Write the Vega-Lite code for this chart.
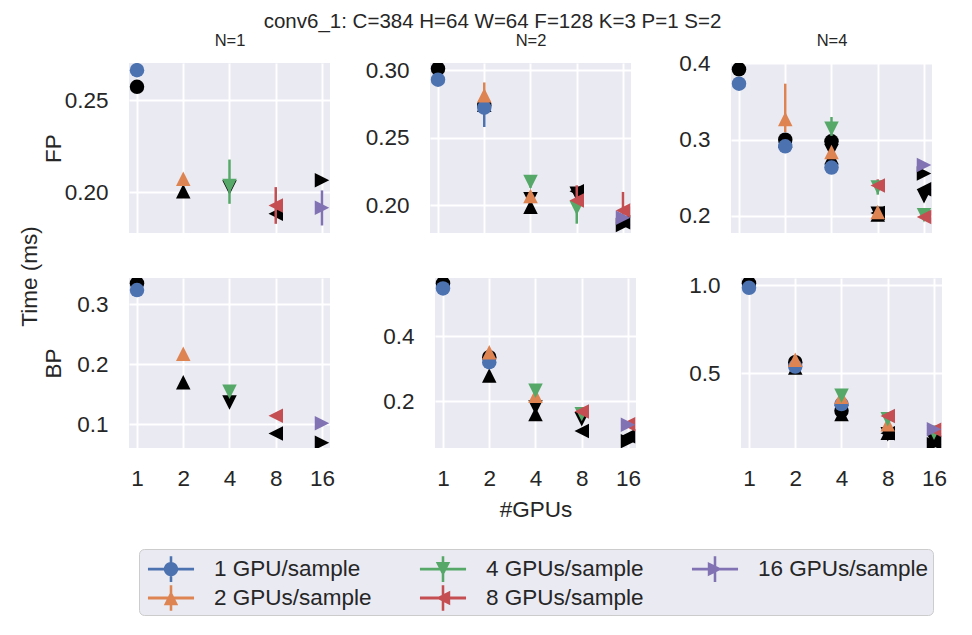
{
  "$schema": "https://vega.github.io/schema/vega-lite/v6.json",
  "background": "white",
  "padding": {"left": 18, "top": 11, "right": 5, "bottom": 5},
  "title": {"text": "conv6_1: C=384 H=64 W=64 F=128 K=3 P=1 S=2", "fontSize": 20.5, "anchor": "middle", "offset": 0, "dx": 10},
  "data": {"values": [
    {"N":1,"phase":"FP","gpus":1,"series":"1 GPU/sample","src":"measured","time":0.2664},
    {"N":1,"phase":"FP","gpus":2,"series":"2 GPUs/sample","src":"measured","time":0.2073},
    {"N":1,"phase":"FP","gpus":4,"series":"4 GPUs/sample","src":"measured","time":0.2033,"lo":0.1936,"hi":0.2177},
    {"N":1,"phase":"FP","gpus":8,"series":"8 GPUs/sample","src":"measured","time":0.1927,"lo":0.1827,"hi":0.2027},
    {"N":1,"phase":"FP","gpus":16,"series":"16 GPUs/sample","src":"measured","time":0.1915,"lo":0.1818,"hi":0.2009},
    {"N":1,"phase":"FP","gpus":1,"series":"1 GPU/sample","src":"model","time":0.2573},
    {"N":1,"phase":"FP","gpus":2,"series":"2 GPUs/sample","src":"model","time":0.2004},
    {"N":1,"phase":"FP","gpus":4,"series":"4 GPUs/sample","src":"model","time":0.2025},
    {"N":1,"phase":"FP","gpus":8,"series":"8 GPUs/sample","src":"model","time":0.1882},
    {"N":1,"phase":"FP","gpus":16,"series":"16 GPUs/sample","src":"model","time":0.2064},

    {"N":2,"phase":"FP","gpus":1,"series":"1 GPU/sample","src":"measured","time":0.2930},
    {"N":2,"phase":"FP","gpus":2,"series":"1 GPU/sample","src":"measured","time":0.2723,"lo":0.2580,"hi":0.2760},
    {"N":2,"phase":"FP","gpus":2,"series":"2 GPUs/sample","src":"measured","time":0.2815,"lo":0.2780,"hi":0.2910},
    {"N":2,"phase":"FP","gpus":4,"series":"2 GPUs/sample","src":"measured","time":0.2069},
    {"N":2,"phase":"FP","gpus":4,"series":"4 GPUs/sample","src":"measured","time":0.2173,"lo":0.2130,"hi":0.2217},
    {"N":2,"phase":"FP","gpus":8,"series":"4 GPUs/sample","src":"measured","time":0.1980,"lo":0.1864,"hi":0.2020},
    {"N":2,"phase":"FP","gpus":8,"series":"8 GPUs/sample","src":"measured","time":0.2035,"lo":0.2000,"hi":0.2148},
    {"N":2,"phase":"FP","gpus":16,"series":"8 GPUs/sample","src":"measured","time":0.1962,"lo":0.1930,"hi":0.2099},
    {"N":2,"phase":"FP","gpus":16,"series":"16 GPUs/sample","src":"measured","time":0.1908},
    {"N":2,"phase":"FP","gpus":1,"series":"1 GPU/sample","src":"model","time":0.3012},
    {"N":2,"phase":"FP","gpus":2,"series":"1 GPU/sample","src":"model","time":0.2741},
    {"N":2,"phase":"FP","gpus":2,"series":"2 GPUs/sample","src":"model","time":0.2745},
    {"N":2,"phase":"FP","gpus":4,"series":"2 GPUs/sample","src":"model","time":0.1990},
    {"N":2,"phase":"FP","gpus":4,"series":"4 GPUs/sample","src":"model","time":0.2045},
    {"N":2,"phase":"FP","gpus":8,"series":"4 GPUs/sample","src":"model","time":0.2085},
    {"N":2,"phase":"FP","gpus":8,"series":"8 GPUs/sample","src":"model","time":0.2105},
    {"N":2,"phase":"FP","gpus":16,"series":"8 GPUs/sample","src":"model","time":0.1875},
    {"N":2,"phase":"FP","gpus":16,"series":"16 GPUs/sample","src":"model","time":0.1855},

    {"N":4,"phase":"FP","gpus":1,"series":"1 GPU/sample","src":"measured","time":0.3734},
    {"N":4,"phase":"FP","gpus":2,"series":"1 GPU/sample","src":"measured","time":0.2913},
    {"N":4,"phase":"FP","gpus":4,"series":"1 GPU/sample","src":"measured","time":0.2634},
    {"N":4,"phase":"FP","gpus":2,"series":"2 GPUs/sample","src":"measured","time":0.3271,"lo":0.3100,"hi":0.3734},
    {"N":4,"phase":"FP","gpus":4,"series":"2 GPUs/sample","src":"measured","time":0.2839,"lo":0.2790,"hi":0.2890},
    {"N":4,"phase":"FP","gpus":8,"series":"2 GPUs/sample","src":"measured","time":0.2052},
    {"N":4,"phase":"FP","gpus":4,"series":"4 GPUs/sample","src":"measured","time":0.3144,"lo":0.3050,"hi":0.3297},
    {"N":4,"phase":"FP","gpus":8,"series":"4 GPUs/sample","src":"measured","time":0.2375,"lo":0.2280,"hi":0.2450},
    {"N":4,"phase":"FP","gpus":16,"series":"4 GPUs/sample","src":"measured","time":0.2009},
    {"N":4,"phase":"FP","gpus":8,"series":"8 GPUs/sample","src":"measured","time":0.2400,"lo":0.2330,"hi":0.2480},
    {"N":4,"phase":"FP","gpus":16,"series":"8 GPUs/sample","src":"measured","time":0.1987},
    {"N":4,"phase":"FP","gpus":16,"series":"16 GPUs/sample","src":"measured","time":0.2669},
    {"N":4,"phase":"FP","gpus":1,"series":"1 GPU/sample","src":"model","time":0.3922},
    {"N":4,"phase":"FP","gpus":2,"series":"1 GPU/sample","src":"model","time":0.3000},
    {"N":4,"phase":"FP","gpus":4,"series":"1 GPU/sample","src":"model","time":0.2979},
    {"N":4,"phase":"FP","gpus":2,"series":"2 GPUs/sample","src":"model","time":0.2990},
    {"N":4,"phase":"FP","gpus":4,"series":"2 GPUs/sample","src":"model","time":0.2770},
    {"N":4,"phase":"FP","gpus":8,"series":"2 GPUs/sample","src":"model","time":0.2020},
    {"N":4,"phase":"FP","gpus":4,"series":"4 GPUs/sample","src":"model","time":0.2850},
    {"N":4,"phase":"FP","gpus":8,"series":"4 GPUs/sample","src":"model","time":0.2030},
    {"N":4,"phase":"FP","gpus":16,"series":"4 GPUs/sample","src":"model","time":0.2260},
    {"N":4,"phase":"FP","gpus":8,"series":"8 GPUs/sample","src":"model","time":0.2040},
    {"N":4,"phase":"FP","gpus":16,"series":"8 GPUs/sample","src":"model","time":0.2350},
    {"N":4,"phase":"FP","gpus":16,"series":"16 GPUs/sample","src":"model","time":0.2556},

    {"N":1,"phase":"BP","gpus":1,"series":"1 GPU/sample","src":"measured","time":0.3233},
    {"N":1,"phase":"BP","gpus":2,"series":"2 GPUs/sample","src":"measured","time":0.2173},
    {"N":1,"phase":"BP","gpus":4,"series":"4 GPUs/sample","src":"measured","time":0.1541},
    {"N":1,"phase":"BP","gpus":8,"series":"8 GPUs/sample","src":"measured","time":0.1139},
    {"N":1,"phase":"BP","gpus":16,"series":"16 GPUs/sample","src":"measured","time":0.1017},
    {"N":1,"phase":"BP","gpus":1,"series":"1 GPU/sample","src":"model","time":0.3345},
    {"N":1,"phase":"BP","gpus":2,"series":"2 GPUs/sample","src":"model","time":0.1697},
    {"N":1,"phase":"BP","gpus":4,"series":"4 GPUs/sample","src":"model","time":0.1362},
    {"N":1,"phase":"BP","gpus":8,"series":"8 GPUs/sample","src":"model","time":0.0843},
    {"N":1,"phase":"BP","gpus":16,"series":"16 GPUs/sample","src":"model","time":0.0692},

    {"N":2,"phase":"BP","gpus":1,"series":"1 GPU/sample","src":"measured","time":0.5474},
    {"N":2,"phase":"BP","gpus":2,"series":"1 GPU/sample","src":"measured","time":0.3206},
    {"N":2,"phase":"BP","gpus":2,"series":"2 GPUs/sample","src":"measured","time":0.3515},
    {"N":2,"phase":"BP","gpus":4,"series":"2 GPUs/sample","src":"measured","time":0.2176},
    {"N":2,"phase":"BP","gpus":4,"series":"4 GPUs/sample","src":"measured","time":0.2331},
    {"N":2,"phase":"BP","gpus":8,"series":"4 GPUs/sample","src":"measured","time":0.1610},
    {"N":2,"phase":"BP","gpus":8,"series":"8 GPUs/sample","src":"measured","time":0.1690},
    {"N":2,"phase":"BP","gpus":16,"series":"8 GPUs/sample","src":"measured","time":0.1300},
    {"N":2,"phase":"BP","gpus":16,"series":"16 GPUs/sample","src":"measured","time":0.1280},
    {"N":2,"phase":"BP","gpus":1,"series":"1 GPU/sample","src":"model","time":0.5630},
    {"N":2,"phase":"BP","gpus":2,"series":"1 GPU/sample","src":"model","time":0.3360},
    {"N":2,"phase":"BP","gpus":2,"series":"2 GPUs/sample","src":"model","time":0.2794},
    {"N":2,"phase":"BP","gpus":4,"series":"2 GPUs/sample","src":"model","time":0.1610},
    {"N":2,"phase":"BP","gpus":4,"series":"4 GPUs/sample","src":"model","time":0.1815},
    {"N":2,"phase":"BP","gpus":8,"series":"4 GPUs/sample","src":"model","time":0.1456},
    {"N":2,"phase":"BP","gpus":8,"series":"8 GPUs/sample","src":"model","time":0.1094},
    {"N":2,"phase":"BP","gpus":16,"series":"8 GPUs/sample","src":"model","time":0.0930},
    {"N":2,"phase":"BP","gpus":16,"series":"16 GPUs/sample","src":"model","time":0.0780},

    {"N":4,"phase":"BP","gpus":1,"series":"1 GPU/sample","src":"measured","time":0.9846},
    {"N":4,"phase":"BP","gpus":2,"series":"1 GPU/sample","src":"measured","time":0.5380},
    {"N":4,"phase":"BP","gpus":4,"series":"1 GPU/sample","src":"measured","time":0.3250},
    {"N":4,"phase":"BP","gpus":2,"series":"2 GPUs/sample","src":"measured","time":0.5760},
    {"N":4,"phase":"BP","gpus":4,"series":"2 GPUs/sample","src":"measured","time":0.3670},
    {"N":4,"phase":"BP","gpus":8,"series":"2 GPUs/sample","src":"measured","time":0.2110},
    {"N":4,"phase":"BP","gpus":4,"series":"4 GPUs/sample","src":"measured","time":0.3725},
    {"N":4,"phase":"BP","gpus":8,"series":"4 GPUs/sample","src":"measured","time":0.2396},
    {"N":4,"phase":"BP","gpus":16,"series":"4 GPUs/sample","src":"measured","time":0.1630},
    {"N":4,"phase":"BP","gpus":8,"series":"8 GPUs/sample","src":"measured","time":0.2580},
    {"N":4,"phase":"BP","gpus":16,"series":"8 GPUs/sample","src":"measured","time":0.1800},
    {"N":4,"phase":"BP","gpus":16,"series":"16 GPUs/sample","src":"measured","time":0.1826},
    {"N":4,"phase":"BP","gpus":1,"series":"1 GPU/sample","src":"model","time":1.0097},
    {"N":4,"phase":"BP","gpus":2,"series":"1 GPU/sample","src":"model","time":0.5626},
    {"N":4,"phase":"BP","gpus":4,"series":"1 GPU/sample","src":"model","time":0.2870},
    {"N":4,"phase":"BP","gpus":2,"series":"2 GPUs/sample","src":"model","time":0.5320},
    {"N":4,"phase":"BP","gpus":4,"series":"2 GPUs/sample","src":"model","time":0.2680},
    {"N":4,"phase":"BP","gpus":8,"series":"2 GPUs/sample","src":"model","time":0.1630},
    {"N":4,"phase":"BP","gpus":4,"series":"4 GPUs/sample","src":"model","time":0.2800},
    {"N":4,"phase":"BP","gpus":8,"series":"4 GPUs/sample","src":"model","time":0.1540},
    {"N":4,"phase":"BP","gpus":16,"series":"4 GPUs/sample","src":"model","time":0.1160},
    {"N":4,"phase":"BP","gpus":8,"series":"8 GPUs/sample","src":"model","time":0.1600},
    {"N":4,"phase":"BP","gpus":16,"series":"8 GPUs/sample","src":"model","time":0.1050},
    {"N":4,"phase":"BP","gpus":16,"series":"16 GPUs/sample","src":"model","time":0.0970}
  ]},
  "vconcat": [{
    "title": {"text": "Time (ms)", "orient": "left", "fontSize": 22.5, "anchor": "middle", "offset": 1},
    "spacing": 41,
    "vconcat": [
      {"spacing": 34, "hconcat": [
        {"width": 201, "height": 170,
         "transform": [{"filter": "datum.N === 1 && datum.phase === 'FP'"}],
         "encoding": {
           "x": {"field": "gpus", "type": "quantitative", "scale": {"type": "log", "base": 2, "domain": [0.887, 18.04], "nice": false}, "axis": {"orient": "top", "values": [1, 2, 4, 8, 16], "labels": false, "title": "N=1", "titleFontSize": 16.5, "titlePadding": 15, "minExtent": 0}},
           "y": {"field": "time", "type": "quantitative", "scale": {"domain": [0.1777, 0.2703], "nice": false, "zero": false}, "axis": {"values": [0.20, 0.25], "format": ".2f", "title": "FP", "titlePadding": -2, "minExtent": 66}}
         },
         "layer": [
           {"transform": [{"filter": "datum.src === 'model'"}], "mark": {"type": "point", "filled": true, "size": 210, "opacity": 1, "strokeWidth": 0, "clip": true, "color": "black"},
            "encoding": {"shape": {"field": "series", "type": "nominal", "scale": {"domain": ["1 GPU/sample", "2 GPUs/sample", "4 GPUs/sample", "8 GPUs/sample", "16 GPUs/sample"], "range": ["circle", "M0,-1L1,1L-1,1Z", "M0,1L-1,-1L1,-1Z", "M-1,0L1,-1L1,1Z", "M1,0L-1,1L-1,-1Z"]}, "legend": null}}},
           {"transform": [{"filter": "datum.src === 'measured'"}], "mark": {"type": "rule", "strokeWidth": 2.5, "clip": true},
            "encoding": {
              "y": {"field": "lo", "type": "quantitative", "scale": {"domain": [0.1777, 0.2703], "nice": false, "zero": false}, "axis": {"values": [0.20, 0.25], "format": ".2f", "title": "FP", "titlePadding": -2, "minExtent": 66}},
              "y2": {"field": "hi"},
              "stroke": {"field": "series", "type": "nominal", "scale": {"domain": ["1 GPU/sample", "2 GPUs/sample", "4 GPUs/sample", "8 GPUs/sample", "16 GPUs/sample"], "range": ["#4C72B0", "#DD8452", "#55A868", "#C44E52", "#8172B3"]}, "legend": null}}},
           {"transform": [{"filter": "datum.src === 'measured'"}], "mark": {"type": "point", "filled": true, "size": 210, "opacity": 1, "strokeWidth": 0, "clip": true},
            "encoding": {
              "shape": {"field": "series", "type": "nominal", "scale": {"domain": ["1 GPU/sample", "2 GPUs/sample", "4 GPUs/sample", "8 GPUs/sample", "16 GPUs/sample"], "range": ["circle", "M0,-1L1,1L-1,1Z", "M0,1L-1,-1L1,-1Z", "M-1,0L1,-1L1,1Z", "M1,0L-1,1L-1,-1Z"]}, "legend": null},
              "color": {"field": "series", "type": "nominal", "scale": {"domain": ["1 GPU/sample", "4 GPUs/sample", "16 GPUs/sample", "2 GPUs/sample", "8 GPUs/sample"], "range": ["#4C72B0", "#55A868", "#8172B3", "#DD8452", "#C44E52"]},
                "legend": {"title": null,
                  "encoding": {"symbols": {"shape": {"value": {"expr": "datum.value === '1 GPU/sample' ? 'M-1.44,-0.09H1.44V0.09H-1.44ZM-0.08,-0.8H0.08V0.8H-0.08ZM0.45,0A0.45,0.45 0 1,1 -0.45,0A0.45,0.45 0 1,1 0.45,0Z' : datum.value === '2 GPUs/sample' ? 'M-1.44,-0.09H1.44V0.09H-1.44ZM-0.08,-0.8H0.08V0.8H-0.08ZM0,-0.45L0.45,0.45L-0.45,0.45Z' : datum.value === '4 GPUs/sample' ? 'M-1.44,-0.09H1.44V0.09H-1.44ZM-0.08,-0.8H0.08V0.8H-0.08ZM0,0.45L-0.45,-0.45L0.45,-0.45Z' : datum.value === '8 GPUs/sample' ? 'M-1.44,-0.09H1.44V0.09H-1.44ZM-0.08,-0.8H0.08V0.8H-0.08ZM-0.45,0L0.45,-0.45L0.45,0.45Z' : 'M-1.44,-0.09H1.44V0.09H-1.44ZM-0.08,-0.8H0.08V0.8H-0.08ZM0.45,0L-0.45,0.45L-0.45,-0.45Z'"}}}}}}}}
         ]},
        {"width": 201, "height": 170,
         "transform": [{"filter": "datum.N === 2 && datum.phase === 'FP'"}],
         "encoding": {
           "x": {"field": "gpus", "type": "quantitative", "scale": {"type": "log", "base": 2, "domain": [0.887, 18.04], "nice": false}, "axis": {"orient": "top", "values": [1, 2, 4, 8, 16], "labels": false, "title": "N=2", "titleFontSize": 16.5, "titlePadding": 15, "minExtent": 0}},
           "y": {"field": "time", "type": "quantitative", "scale": {"domain": [0.1795, 0.3054], "nice": false, "zero": false}, "axis": {"values": [0.20, 0.25, 0.30], "format": ".2f", "title": null, "minExtent": 66}}
         },
         "layer": [
           {"transform": [{"filter": "datum.src === 'model'"}], "mark": {"type": "point", "filled": true, "size": 210, "opacity": 1, "strokeWidth": 0, "clip": true, "color": "black"},
            "encoding": {"shape": {"field": "series", "type": "nominal", "scale": {"domain": ["1 GPU/sample", "2 GPUs/sample", "4 GPUs/sample", "8 GPUs/sample", "16 GPUs/sample"], "range": ["circle", "M0,-1L1,1L-1,1Z", "M0,1L-1,-1L1,-1Z", "M-1,0L1,-1L1,1Z", "M1,0L-1,1L-1,-1Z"]}, "legend": null}}},
           {"transform": [{"filter": "datum.src === 'measured'"}], "mark": {"type": "rule", "strokeWidth": 2.5, "clip": true},
            "encoding": {
              "y": {"field": "lo", "type": "quantitative", "scale": {"domain": [0.1795, 0.3054], "nice": false, "zero": false}, "axis": {"values": [0.20, 0.25, 0.30], "format": ".2f", "title": null, "minExtent": 66}},
              "y2": {"field": "hi"},
              "stroke": {"field": "series", "type": "nominal", "scale": {"domain": ["1 GPU/sample", "2 GPUs/sample", "4 GPUs/sample", "8 GPUs/sample", "16 GPUs/sample"], "range": ["#4C72B0", "#DD8452", "#55A868", "#C44E52", "#8172B3"]}, "legend": null}}},
           {"transform": [{"filter": "datum.src === 'measured'"}], "mark": {"type": "point", "filled": true, "size": 210, "opacity": 1, "strokeWidth": 0, "clip": true},
            "encoding": {
              "shape": {"field": "series", "type": "nominal", "scale": {"domain": ["1 GPU/sample", "2 GPUs/sample", "4 GPUs/sample", "8 GPUs/sample", "16 GPUs/sample"], "range": ["circle", "M0,-1L1,1L-1,1Z", "M0,1L-1,-1L1,-1Z", "M-1,0L1,-1L1,1Z", "M1,0L-1,1L-1,-1Z"]}, "legend": null},
              "color": {"field": "series", "type": "nominal", "scale": {"domain": ["1 GPU/sample", "4 GPUs/sample", "16 GPUs/sample", "2 GPUs/sample", "8 GPUs/sample"], "range": ["#4C72B0", "#55A868", "#8172B3", "#DD8452", "#C44E52"]},
                "legend": {"title": null,
                  "encoding": {"symbols": {"shape": {"value": {"expr": "datum.value === '1 GPU/sample' ? 'M-1.44,-0.09H1.44V0.09H-1.44ZM-0.08,-0.8H0.08V0.8H-0.08ZM0.45,0A0.45,0.45 0 1,1 -0.45,0A0.45,0.45 0 1,1 0.45,0Z' : datum.value === '2 GPUs/sample' ? 'M-1.44,-0.09H1.44V0.09H-1.44ZM-0.08,-0.8H0.08V0.8H-0.08ZM0,-0.45L0.45,0.45L-0.45,0.45Z' : datum.value === '4 GPUs/sample' ? 'M-1.44,-0.09H1.44V0.09H-1.44ZM-0.08,-0.8H0.08V0.8H-0.08ZM0,0.45L-0.45,-0.45L0.45,-0.45Z' : datum.value === '8 GPUs/sample' ? 'M-1.44,-0.09H1.44V0.09H-1.44ZM-0.08,-0.8H0.08V0.8H-0.08ZM-0.45,0L0.45,-0.45L0.45,0.45Z' : 'M-1.44,-0.09H1.44V0.09H-1.44ZM-0.08,-0.8H0.08V0.8H-0.08ZM0.45,0L-0.45,0.45L-0.45,-0.45Z'"}}}}}}}}
         ]},
        {"width": 201, "height": 170,
         "transform": [{"filter": "datum.N === 4 && datum.phase === 'FP'"}],
         "encoding": {
           "x": {"field": "gpus", "type": "quantitative", "scale": {"type": "log", "base": 2, "domain": [0.887, 18.04], "nice": false}, "axis": {"orient": "top", "values": [1, 2, 4, 8, 16], "labels": false, "title": "N=4", "titleFontSize": 16.5, "titlePadding": 15, "minExtent": 0}},
           "y": {"field": "time", "type": "quantitative", "scale": {"domain": [0.1777, 0.4005], "nice": false, "zero": false}, "axis": {"values": [0.2, 0.3, 0.4], "format": ".1f", "title": null, "minExtent": 66}}
         },
         "layer": [
           {"transform": [{"filter": "datum.src === 'model'"}], "mark": {"type": "point", "filled": true, "size": 210, "opacity": 1, "strokeWidth": 0, "clip": true, "color": "black"},
            "encoding": {"shape": {"field": "series", "type": "nominal", "scale": {"domain": ["1 GPU/sample", "2 GPUs/sample", "4 GPUs/sample", "8 GPUs/sample", "16 GPUs/sample"], "range": ["circle", "M0,-1L1,1L-1,1Z", "M0,1L-1,-1L1,-1Z", "M-1,0L1,-1L1,1Z", "M1,0L-1,1L-1,-1Z"]}, "legend": null}}},
           {"transform": [{"filter": "datum.src === 'measured'"}], "mark": {"type": "rule", "strokeWidth": 2.5, "clip": true},
            "encoding": {
              "y": {"field": "lo", "type": "quantitative", "scale": {"domain": [0.1777, 0.4005], "nice": false, "zero": false}, "axis": {"values": [0.2, 0.3, 0.4], "format": ".1f", "title": null, "minExtent": 66}},
              "y2": {"field": "hi"},
              "stroke": {"field": "series", "type": "nominal", "scale": {"domain": ["1 GPU/sample", "2 GPUs/sample", "4 GPUs/sample", "8 GPUs/sample", "16 GPUs/sample"], "range": ["#4C72B0", "#DD8452", "#55A868", "#C44E52", "#8172B3"]}, "legend": null}}},
           {"transform": [{"filter": "datum.src === 'measured'"}], "mark": {"type": "point", "filled": true, "size": 210, "opacity": 1, "strokeWidth": 0, "clip": true},
            "encoding": {
              "shape": {"field": "series", "type": "nominal", "scale": {"domain": ["1 GPU/sample", "2 GPUs/sample", "4 GPUs/sample", "8 GPUs/sample", "16 GPUs/sample"], "range": ["circle", "M0,-1L1,1L-1,1Z", "M0,1L-1,-1L1,-1Z", "M-1,0L1,-1L1,1Z", "M1,0L-1,1L-1,-1Z"]}, "legend": null},
              "color": {"field": "series", "type": "nominal", "scale": {"domain": ["1 GPU/sample", "4 GPUs/sample", "16 GPUs/sample", "2 GPUs/sample", "8 GPUs/sample"], "range": ["#4C72B0", "#55A868", "#8172B3", "#DD8452", "#C44E52"]},
                "legend": {"title": null,
                  "encoding": {"symbols": {"shape": {"value": {"expr": "datum.value === '1 GPU/sample' ? 'M-1.44,-0.09H1.44V0.09H-1.44ZM-0.08,-0.8H0.08V0.8H-0.08ZM0.45,0A0.45,0.45 0 1,1 -0.45,0A0.45,0.45 0 1,1 0.45,0Z' : datum.value === '2 GPUs/sample' ? 'M-1.44,-0.09H1.44V0.09H-1.44ZM-0.08,-0.8H0.08V0.8H-0.08ZM0,-0.45L0.45,0.45L-0.45,0.45Z' : datum.value === '4 GPUs/sample' ? 'M-1.44,-0.09H1.44V0.09H-1.44ZM-0.08,-0.8H0.08V0.8H-0.08ZM0,0.45L-0.45,-0.45L0.45,-0.45Z' : datum.value === '8 GPUs/sample' ? 'M-1.44,-0.09H1.44V0.09H-1.44ZM-0.08,-0.8H0.08V0.8H-0.08ZM-0.45,0L0.45,-0.45L0.45,0.45Z' : 'M-1.44,-0.09H1.44V0.09H-1.44ZM-0.08,-0.8H0.08V0.8H-0.08ZM0.45,0L-0.45,0.45L-0.45,-0.45Z'"}}}}}}}}
         ]}
      ]},
      {"spacing": 34, "hconcat": [
        {"width": 201, "height": 170,
         "transform": [{"filter": "datum.N === 1 && datum.phase === 'BP'"}],
         "encoding": {
           "x": {"field": "gpus", "type": "quantitative", "scale": {"type": "log", "base": 2, "domain": [0.887, 18.04], "nice": false}, "axis": {"values": [1, 2, 4, 8, 16], "format": "d", "title": null, "labelFlush": false, "labelPadding": 19}},
           "y": {"field": "time", "type": "quantitative", "scale": {"domain": [0.0603, 0.3434], "nice": false, "zero": false}, "axis": {"values": [0.1, 0.2, 0.3], "format": ".1f", "title": "BP", "titlePadding": -2, "minExtent": 66}}
         },
         "layer": [
           {"transform": [{"filter": "datum.src === 'model'"}], "mark": {"type": "point", "filled": true, "size": 210, "opacity": 1, "strokeWidth": 0, "clip": true, "color": "black"},
            "encoding": {"shape": {"field": "series", "type": "nominal", "scale": {"domain": ["1 GPU/sample", "2 GPUs/sample", "4 GPUs/sample", "8 GPUs/sample", "16 GPUs/sample"], "range": ["circle", "M0,-1L1,1L-1,1Z", "M0,1L-1,-1L1,-1Z", "M-1,0L1,-1L1,1Z", "M1,0L-1,1L-1,-1Z"]}, "legend": null}}},
           {"transform": [{"filter": "datum.src === 'measured'"}], "mark": {"type": "point", "filled": true, "size": 210, "opacity": 1, "strokeWidth": 0, "clip": true},
            "encoding": {
              "shape": {"field": "series", "type": "nominal", "scale": {"domain": ["1 GPU/sample", "2 GPUs/sample", "4 GPUs/sample", "8 GPUs/sample", "16 GPUs/sample"], "range": ["circle", "M0,-1L1,1L-1,1Z", "M0,1L-1,-1L1,-1Z", "M-1,0L1,-1L1,1Z", "M1,0L-1,1L-1,-1Z"]}, "legend": null},
              "color": {"field": "series", "type": "nominal", "scale": {"domain": ["1 GPU/sample", "4 GPUs/sample", "16 GPUs/sample", "2 GPUs/sample", "8 GPUs/sample"], "range": ["#4C72B0", "#55A868", "#8172B3", "#DD8452", "#C44E52"]},
                "legend": {"title": null,
                  "encoding": {"symbols": {"shape": {"value": {"expr": "datum.value === '1 GPU/sample' ? 'M-1.44,-0.09H1.44V0.09H-1.44ZM-0.08,-0.8H0.08V0.8H-0.08ZM0.45,0A0.45,0.45 0 1,1 -0.45,0A0.45,0.45 0 1,1 0.45,0Z' : datum.value === '2 GPUs/sample' ? 'M-1.44,-0.09H1.44V0.09H-1.44ZM-0.08,-0.8H0.08V0.8H-0.08ZM0,-0.45L0.45,0.45L-0.45,0.45Z' : datum.value === '4 GPUs/sample' ? 'M-1.44,-0.09H1.44V0.09H-1.44ZM-0.08,-0.8H0.08V0.8H-0.08ZM0,0.45L-0.45,-0.45L0.45,-0.45Z' : datum.value === '8 GPUs/sample' ? 'M-1.44,-0.09H1.44V0.09H-1.44ZM-0.08,-0.8H0.08V0.8H-0.08ZM-0.45,0L0.45,-0.45L0.45,0.45Z' : 'M-1.44,-0.09H1.44V0.09H-1.44ZM-0.08,-0.8H0.08V0.8H-0.08ZM0.45,0L-0.45,0.45L-0.45,-0.45Z'"}}}}}}}}
         ]},
        {"width": 201, "height": 170,
         "transform": [{"filter": "datum.N === 2 && datum.phase === 'BP'"}],
         "encoding": {
           "x": {"field": "gpus", "type": "quantitative", "scale": {"type": "log", "base": 2, "domain": [0.887, 18.04], "nice": false}, "axis": {"values": [1, 2, 4, 8, 16], "format": "d", "title": "#GPUs", "titlePadding": 9, "labelFlush": false, "labelPadding": 19}},
           "y": {"field": "time", "type": "quantitative", "scale": {"domain": [0.0569, 0.5793], "nice": false, "zero": false}, "axis": {"values": [0.2, 0.4], "format": ".1f", "title": null, "minExtent": 66}}
         },
         "layer": [
           {"transform": [{"filter": "datum.src === 'model'"}], "mark": {"type": "point", "filled": true, "size": 210, "opacity": 1, "strokeWidth": 0, "clip": true, "color": "black"},
            "encoding": {"shape": {"field": "series", "type": "nominal", "scale": {"domain": ["1 GPU/sample", "2 GPUs/sample", "4 GPUs/sample", "8 GPUs/sample", "16 GPUs/sample"], "range": ["circle", "M0,-1L1,1L-1,1Z", "M0,1L-1,-1L1,-1Z", "M-1,0L1,-1L1,1Z", "M1,0L-1,1L-1,-1Z"]}, "legend": null}}},
           {"transform": [{"filter": "datum.src === 'measured'"}], "mark": {"type": "point", "filled": true, "size": 210, "opacity": 1, "strokeWidth": 0, "clip": true},
            "encoding": {
              "shape": {"field": "series", "type": "nominal", "scale": {"domain": ["1 GPU/sample", "2 GPUs/sample", "4 GPUs/sample", "8 GPUs/sample", "16 GPUs/sample"], "range": ["circle", "M0,-1L1,1L-1,1Z", "M0,1L-1,-1L1,-1Z", "M-1,0L1,-1L1,1Z", "M1,0L-1,1L-1,-1Z"]}, "legend": null},
              "color": {"field": "series", "type": "nominal", "scale": {"domain": ["1 GPU/sample", "4 GPUs/sample", "16 GPUs/sample", "2 GPUs/sample", "8 GPUs/sample"], "range": ["#4C72B0", "#55A868", "#8172B3", "#DD8452", "#C44E52"]},
                "legend": {"title": null,
                  "encoding": {"symbols": {"shape": {"value": {"expr": "datum.value === '1 GPU/sample' ? 'M-1.44,-0.09H1.44V0.09H-1.44ZM-0.08,-0.8H0.08V0.8H-0.08ZM0.45,0A0.45,0.45 0 1,1 -0.45,0A0.45,0.45 0 1,1 0.45,0Z' : datum.value === '2 GPUs/sample' ? 'M-1.44,-0.09H1.44V0.09H-1.44ZM-0.08,-0.8H0.08V0.8H-0.08ZM0,-0.45L0.45,0.45L-0.45,0.45Z' : datum.value === '4 GPUs/sample' ? 'M-1.44,-0.09H1.44V0.09H-1.44ZM-0.08,-0.8H0.08V0.8H-0.08ZM0,0.45L-0.45,-0.45L0.45,-0.45Z' : datum.value === '8 GPUs/sample' ? 'M-1.44,-0.09H1.44V0.09H-1.44ZM-0.08,-0.8H0.08V0.8H-0.08ZM-0.45,0L0.45,-0.45L0.45,0.45Z' : 'M-1.44,-0.09H1.44V0.09H-1.44ZM-0.08,-0.8H0.08V0.8H-0.08ZM0.45,0L-0.45,0.45L-0.45,-0.45Z'"}}}}}}}}
         ]},
        {"width": 201, "height": 170,
         "transform": [{"filter": "datum.N === 4 && datum.phase === 'BP'"}],
         "encoding": {
           "x": {"field": "gpus", "type": "quantitative", "scale": {"type": "log", "base": 2, "domain": [0.887, 18.04], "nice": false}, "axis": {"values": [1, 2, 4, 8, 16], "format": "d", "title": null, "labelFlush": false, "labelPadding": 19}},
           "y": {"field": "time", "type": "quantitative", "scale": {"domain": [0.0759, 1.04], "nice": false, "zero": false}, "axis": {"values": [0.5, 1.0], "format": ".1f", "title": null, "minExtent": 66}}
         },
         "layer": [
           {"transform": [{"filter": "datum.src === 'model'"}], "mark": {"type": "point", "filled": true, "size": 210, "opacity": 1, "strokeWidth": 0, "clip": true, "color": "black"},
            "encoding": {"shape": {"field": "series", "type": "nominal", "scale": {"domain": ["1 GPU/sample", "2 GPUs/sample", "4 GPUs/sample", "8 GPUs/sample", "16 GPUs/sample"], "range": ["circle", "M0,-1L1,1L-1,1Z", "M0,1L-1,-1L1,-1Z", "M-1,0L1,-1L1,1Z", "M1,0L-1,1L-1,-1Z"]}, "legend": null}}},
           {"transform": [{"filter": "datum.src === 'measured'"}], "mark": {"type": "point", "filled": true, "size": 210, "opacity": 1, "strokeWidth": 0, "clip": true},
            "encoding": {
              "shape": {"field": "series", "type": "nominal", "scale": {"domain": ["1 GPU/sample", "2 GPUs/sample", "4 GPUs/sample", "8 GPUs/sample", "16 GPUs/sample"], "range": ["circle", "M0,-1L1,1L-1,1Z", "M0,1L-1,-1L1,-1Z", "M-1,0L1,-1L1,1Z", "M1,0L-1,1L-1,-1Z"]}, "legend": null},
              "color": {"field": "series", "type": "nominal", "scale": {"domain": ["1 GPU/sample", "4 GPUs/sample", "16 GPUs/sample", "2 GPUs/sample", "8 GPUs/sample"], "range": ["#4C72B0", "#55A868", "#8172B3", "#DD8452", "#C44E52"]},
                "legend": {"title": null,
                  "encoding": {"symbols": {"shape": {"value": {"expr": "datum.value === '1 GPU/sample' ? 'M-1.44,-0.09H1.44V0.09H-1.44ZM-0.08,-0.8H0.08V0.8H-0.08ZM0.45,0A0.45,0.45 0 1,1 -0.45,0A0.45,0.45 0 1,1 0.45,0Z' : datum.value === '2 GPUs/sample' ? 'M-1.44,-0.09H1.44V0.09H-1.44ZM-0.08,-0.8H0.08V0.8H-0.08ZM0,-0.45L0.45,0.45L-0.45,0.45Z' : datum.value === '4 GPUs/sample' ? 'M-1.44,-0.09H1.44V0.09H-1.44ZM-0.08,-0.8H0.08V0.8H-0.08ZM0,0.45L-0.45,-0.45L0.45,-0.45Z' : datum.value === '8 GPUs/sample' ? 'M-1.44,-0.09H1.44V0.09H-1.44ZM-0.08,-0.8H0.08V0.8H-0.08ZM-0.45,0L0.45,-0.45L0.45,0.45Z' : 'M-1.44,-0.09H1.44V0.09H-1.44ZM-0.08,-0.8H0.08V0.8H-0.08ZM0.45,0L-0.45,0.45L-0.45,-0.45Z'"}}}}}}}}
         ]}
      ]}
    ]
  }],
  "config": {
    "font": "Liberation Sans",
    "view": {"stroke": null, "fill": "#EAEAF2"},
    "axis": {"domain": false, "ticks": false, "grid": true, "gridColor": "#FFFFFF", "gridWidth": 2, "labelFont": "Liberation Sans", "labelFontSize": 22.5, "labelColor": "#262626", "titleFont": "Liberation Sans", "titleFontSize": 22.5, "titleColor": "#262626", "titleFontWeight": "normal", "labelPadding": 21},
    "title": {"font": "Liberation Sans", "fontWeight": "normal", "color": "#262626"},
    "legend": {"orient": "none", "legendX": 10, "legendY": 486, "columns": 3, "direction": "horizontal", "symbolSize": 1024, "symbolStrokeWidth": 0, "symbolOffset": 12, "labelOffset": 27, "columnPadding": 43, "rowPadding": 0, "padding": 4, "labelFont": "Liberation Sans", "labelFontSize": 22.5, "labelColor": "#262626", "labelLimit": 300, "fillColor": "#EAEAF2", "strokeColor": "#CCCCCC", "cornerRadius": 5, "symbolOpacity": 1}
  }
}
